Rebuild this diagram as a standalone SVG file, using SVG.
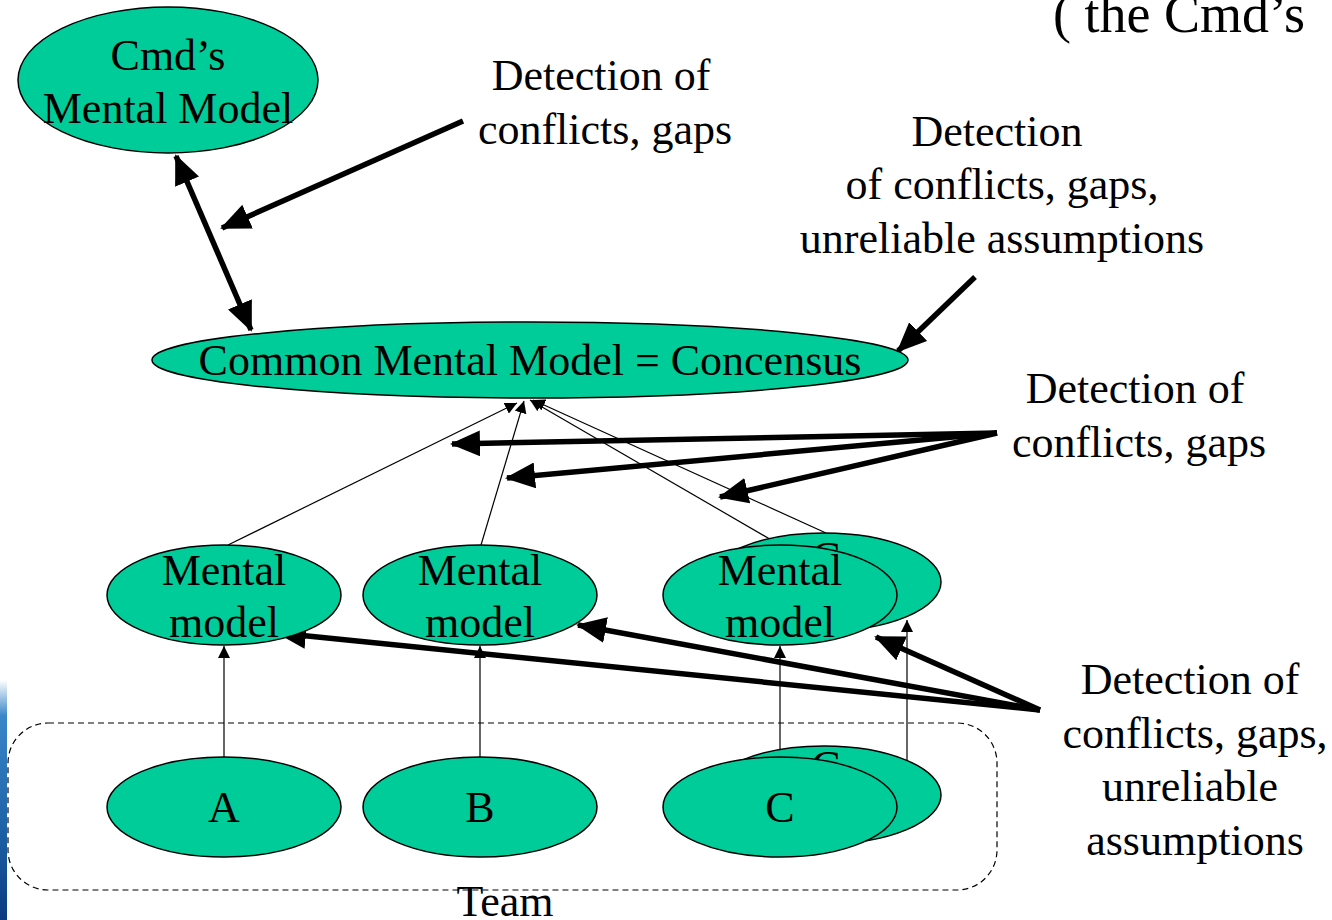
<svg xmlns="http://www.w3.org/2000/svg" width="1332" height="920" viewBox="0 0 1332 920">
<style>
.n{fill:#00cc99;stroke:#000;stroke-width:1.5}
.t{font-family:"Liberation Serif","Times New Roman",serif;font-size:44px;fill:#000;text-anchor:middle}
.thin{stroke:#000;stroke-width:1.2;fill:none}
.thick{stroke:#000;stroke-width:5.5;fill:none}
</style>
<defs>
<linearGradient id="bar" x1="0" y1="0" x2="0" y2="1">
<stop offset="0" stop-color="#ffffff"/>
<stop offset="0.15" stop-color="#3a86c8"/>
<stop offset="0.6" stop-color="#1f63a8"/>
<stop offset="1" stop-color="#0a3a80"/>
</linearGradient>
<marker id="big" viewBox="0 0 30 26" refX="28" refY="13" markerWidth="30" markerHeight="26" orient="auto-start-reverse" markerUnits="userSpaceOnUse">
<path d="M0,0 L30,13 L0,26 z" fill="#000"/>
</marker>
<marker id="small" viewBox="0 0 12 12" refX="12" refY="6" markerWidth="12" markerHeight="12" orient="auto" markerUnits="userSpaceOnUse">
<path d="M0,0 L12,6 L0,12 z" fill="#000"/>
</marker>
</defs>
<rect width="1332" height="920" fill="#fff"/>
<rect x="0" y="680" width="7" height="240" fill="url(#bar)"/>
<text class="t" x="1053" y="32" style="text-anchor:start;font-size:54px">( the Cmd’s</text>

<g id="team">
<rect x="8" y="723" width="989" height="167" rx="40" ry="40" fill="none" stroke="#000" stroke-width="1.2" stroke-dasharray="6,4"/>
<text class="t" x="505" y="916">Team</text>
</g>

<g id="connectors">
<line class="thin" x1="224" y1="757" x2="224" y2="646" marker-end="url(#small)"/>
<line class="thin" x1="480" y1="757" x2="480" y2="646" marker-end="url(#small)"/>
<line class="thin" x1="780" y1="757" x2="780" y2="646" marker-end="url(#small)"/>
<line class="thin" x1="907" y1="760" x2="907" y2="620" marker-end="url(#small)"/>
<line class="thin" x1="228" y1="545" x2="517" y2="403" marker-end="url(#small)"/>
<line class="thin" x1="481" y1="545" x2="524" y2="401" marker-end="url(#small)"/>
<line class="thin" x1="780" y1="545" x2="530" y2="400" marker-end="url(#small)"/>
<line class="thin" x1="826" y1="533" x2="533" y2="400" marker-end="url(#small)"/>
<line class="thick" x1="176" y1="156" x2="251" y2="330" marker-start="url(#big)" marker-end="url(#big)"/>
<line class="thick" x1="463" y1="121" x2="222" y2="228" marker-end="url(#big)"/>
<line class="thick" x1="975" y1="277" x2="898" y2="351" marker-end="url(#big)"/>
<line class="thick" x1="997" y1="433" x2="452" y2="444" marker-end="url(#big)"/>
<line class="thick" x1="997" y1="433" x2="507" y2="478" marker-end="url(#big)"/>
<line class="thick" x1="997" y1="433" x2="720" y2="497" marker-end="url(#big)"/>
<line class="thick" x1="1040" y1="710" x2="278" y2="633" marker-end="url(#big)"/>
<line class="thick" x1="1040" y1="710" x2="578" y2="625" marker-end="url(#big)"/>
<line class="thick" x1="1040" y1="710" x2="876" y2="637" marker-end="url(#big)"/>
</g>

<g id="cmd">
<ellipse class="n" cx="168" cy="80" rx="150" ry="73"/>
<text class="t" x="168" y="70">Cmd’s</text>
<text class="t" x="168" y="123">Mental Model</text>
</g>

<g id="common">
<ellipse class="n" cx="530" cy="360" rx="378" ry="38"/>
<text class="t" x="530" y="375">Common Mental Model = Concensus</text>
</g>

<g id="mmA">
<ellipse class="n" cx="224" cy="595" rx="117" ry="50"/>
<text class="t" x="224" y="585">Mental</text>
<text class="t" x="224" y="637">model</text>
</g>
<g id="mmB">
<ellipse class="n" cx="480" cy="595" rx="117" ry="50"/>
<text class="t" x="480" y="585">Mental</text>
<text class="t" x="480" y="637">model</text>
</g>
<g id="mmC2">
<ellipse class="n" cx="824" cy="582" rx="117" ry="49"/>
<text class="t" x="826" y="572">C</text>
</g>
<g id="mmC">
<ellipse class="n" cx="780" cy="595" rx="117" ry="50"/>
<text class="t" x="780" y="585">Mental</text>
<text class="t" x="780" y="637">model</text>
</g>

<g id="A">
<ellipse class="n" cx="224" cy="807" rx="117" ry="50"/>
<text class="t" x="224" y="822">A</text>
</g>
<g id="B">
<ellipse class="n" cx="480" cy="807" rx="117" ry="50"/>
<text class="t" x="480" y="822">B</text>
</g>
<g id="C2">
<ellipse class="n" cx="824" cy="795" rx="117" ry="49"/>
<text class="t" x="826" y="781">C</text>
</g>
<g id="C">
<ellipse class="n" cx="780" cy="807" rx="117" ry="50"/>
<text class="t" x="780" y="822">C</text>
</g>

<g id="labels">
<text class="t" x="601" y="90">Detection of</text>
<text class="t" x="605" y="144">conflicts, gaps</text>
<text class="t" x="997" y="146">Detection</text>
<text class="t" x="1002" y="199">of conflicts, gaps,</text>
<text class="t" x="1002" y="253">unreliable assumptions</text>
<text class="t" x="1135" y="403">Detection of</text>
<text class="t" x="1139" y="457">conflicts, gaps</text>
<text class="t" x="1190" y="694">Detection of</text>
<text class="t" x="1195" y="748">conflicts, gaps,</text>
<text class="t" x="1190" y="801">unreliable</text>
<text class="t" x="1195" y="855">assumptions</text>
</g>
</svg>
